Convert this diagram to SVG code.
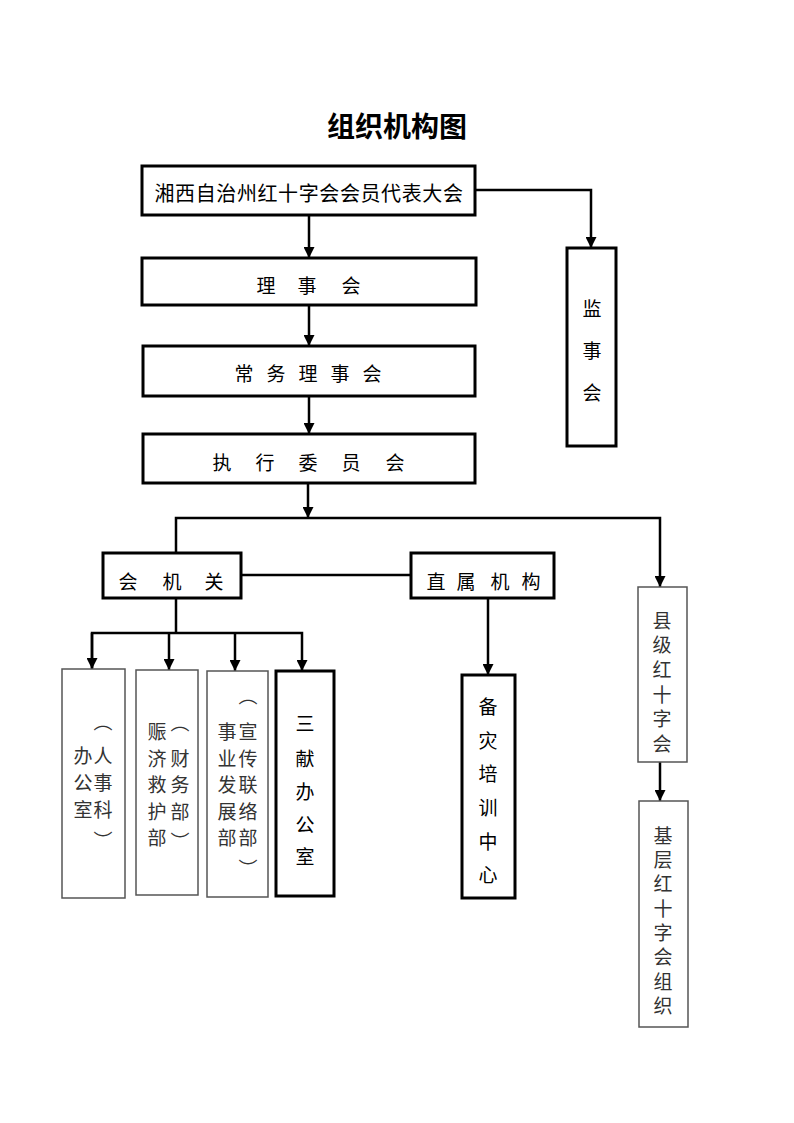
<svg xmlns="http://www.w3.org/2000/svg" width="794" height="1123" viewBox="0 0 794 1123">
<style>
.bx{fill:#fff;stroke:#000;stroke-width:3}
.thin{fill:#fff;stroke:#555;stroke-width:1.5}
.t{font-family:"Noto Sans CJK SC","Noto Sans",sans-serif;font-size:19px;text-anchor:middle;dominant-baseline:central;fill:#000}
.g{fill:#333}
.v{writing-mode:vertical-rl;text-anchor:start}
.c{fill:none;stroke:#000;stroke-width:2.5}
</style>
<defs>
<marker id="ah" viewBox="0 0 10 10" refX="10" refY="5" markerWidth="11" markerHeight="11" orient="auto" markerUnits="userSpaceOnUse">
<path d="M0,0 L10,5 L0,10 z" fill="#000"/>
</marker>
</defs>
<rect width="794" height="1123" fill="#fff"/>
<text x="397" y="125" style="font-family:'Noto Sans CJK SC',sans-serif;font-size:28px;font-weight:bold;text-anchor:middle;dominant-baseline:central">组织机构图</text>

<g id="connectors">
<path class="c" d="M309,215 V258" marker-end="url(#ah)"/>
<path class="c" d="M475,190 H591 V248" marker-end="url(#ah)"/>
<path class="c" d="M309,305 V346" marker-end="url(#ah)"/>
<path class="c" d="M309,396 V434" marker-end="url(#ah)"/>
<path class="c" d="M308,483 V518" marker-end="url(#ah)"/>
<path class="c" d="M176,553 V518 H660 V587" marker-end="url(#ah)"/>
<path class="c" d="M241,575 H411"/>
<path class="c" d="M176,598 V633"/>
<path class="c" d="M92,668 V633 H302 V671" marker-end="url(#ah)"/>
<path class="c" d="M92,633 V669" marker-end="url(#ah)"/>
<path class="c" d="M169,633 V670" marker-end="url(#ah)"/>
<path class="c" d="M235,633 V671" marker-end="url(#ah)"/>
<path class="c" d="M488,598 V675" marker-end="url(#ah)"/>
<path class="c" d="M660,762 V801" marker-end="url(#ah)"/>
</g>

<g id="n1"><rect class="bx" x="142" y="166" width="333" height="49"/>
<text class="t" x="309" y="192" style="font-size:20px;letter-spacing:0.6px">湘西自治州红十字会会员代表大会</text></g>

<g id="n2"><rect class="bx" x="142" y="258" width="334" height="47"/>
<text class="t" x="266" y="284">理</text><text class="t" x="307" y="284">事</text><text class="t" x="351" y="284">会</text></g>

<g id="n3"><rect class="bx" x="143" y="346" width="332" height="50"/>
<text class="t" x="244" y="372">常</text><text class="t" x="276" y="372">务</text><text class="t" x="308" y="372">理</text><text class="t" x="340" y="372">事</text><text class="t" x="372" y="372">会</text></g>

<g id="n4"><rect class="bx" x="143" y="434" width="332" height="49"/>
<text class="t" x="222" y="461">执</text><text class="t" x="265" y="461">行</text><text class="t" x="308" y="461">委</text><text class="t" x="351" y="461">员</text><text class="t" x="395" y="461">会</text></g>

<g id="n5"><rect class="bx" x="567" y="248" width="49" height="198"/>
<text class="t" x="592" y="307">监</text><text class="t" x="592" y="349">事</text><text class="t" x="592" y="391">会</text></g>

<g id="n6"><rect class="bx" x="103" y="553" width="138" height="45"/>
<text class="t" x="128" y="580">会</text><text class="t" x="172" y="580">机</text><text class="t" x="214" y="580">关</text></g>

<g id="n7"><rect class="bx" x="411" y="553" width="143" height="45"/>
<text class="t" x="436" y="580">直</text><text class="t" x="466" y="580">属</text><text class="t" x="500" y="580">机</text><text class="t" x="531" y="580">构</text></g>

<g id="n8"><rect class="thin" x="62" y="669" width="63" height="229"/>
<text class="t g" x="103" y="720">︵</text><text class="t g" x="103" y="754">人</text><text class="t g" x="103" y="781">事</text><text class="t g" x="103" y="808">科</text><text class="t g" x="103" y="839">︶</text>
<text class="t g" x="83" y="754">办</text><text class="t g" x="83" y="781">公</text><text class="t g" x="83" y="808">室</text></g>

<g id="n9"><rect class="thin" x="136" y="670" width="62" height="225"/>
<text class="t g" x="180" y="721">︵</text><text class="t g" x="180" y="757">财</text><text class="t g" x="180" y="783">务</text><text class="t g" x="180" y="810">部</text><text class="t g" x="180" y="840">︶</text>
<text class="t g" x="157" y="730">赈</text><text class="t g" x="157" y="757">济</text><text class="t g" x="157" y="783">救</text><text class="t g" x="157" y="810">护</text><text class="t g" x="157" y="836">部</text></g>

<g id="n10"><rect class="thin" x="207" y="671" width="61" height="226"/>
<text class="t g" x="248" y="694">︵</text><text class="t g" x="248" y="730">宣</text><text class="t g" x="248" y="757">传</text><text class="t g" x="248" y="783">联</text><text class="t g" x="248" y="810">络</text><text class="t g" x="248" y="836">部</text><text class="t g" x="248" y="867">︶</text>
<text class="t g" x="227" y="730">事</text><text class="t g" x="227" y="757">业</text><text class="t g" x="227" y="783">发</text><text class="t g" x="227" y="810">展</text><text class="t g" x="227" y="836">部</text></g>

<g id="n11"><rect class="bx" x="276" y="671" width="58" height="225"/>
<text class="t" x="305" y="722">三</text><text class="t" x="305" y="757">献</text><text class="t" x="305" y="790">办</text><text class="t" x="305" y="823">公</text><text class="t" x="305" y="855">室</text></g>

<g id="n12"><rect class="bx" x="462" y="675" width="53" height="223"/>
<text class="t" x="488" y="705">备</text><text class="t" x="488" y="739">灾</text><text class="t" x="488" y="772">培</text><text class="t" x="488" y="806">训</text><text class="t" x="488" y="840">中</text><text class="t" x="488" y="873">心</text></g>

<g id="n13"><rect class="thin" x="638" y="587" width="49" height="175"/>
<text class="t g v" x="662" y="611" style="letter-spacing:5.6px">县级红十字会</text></g>

<g id="n14"><rect class="thin" x="639" y="801" width="49" height="226"/>
<text class="t g v" x="663" y="826" style="letter-spacing:5.3px">基层红十字会组织</text></g>
</svg>
